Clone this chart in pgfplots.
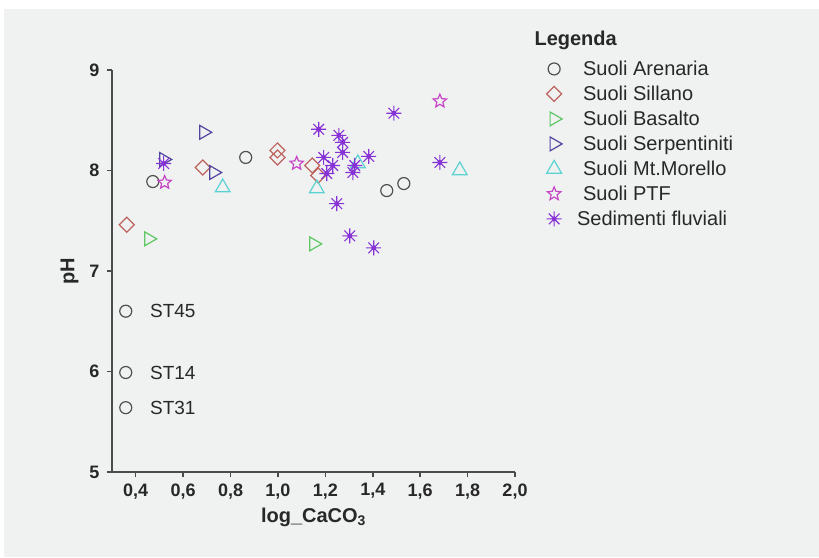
\documentclass[border=0pt]{standalone}
\usepackage{pgfplots}
\pgfplotsset{compat=1.18}
\usepackage{fontspec}
\setmainfont{Liberation Sans}
\definecolor{bg}{RGB}{240,241,241}
\definecolor{axc}{RGB}{75,75,75}
\definecolor{txt}{RGB}{40,40,40}
\definecolor{cAren}{RGB}{80,80,80}
\definecolor{cSill}{RGB}{190,100,95}
\definecolor{cBas}{RGB}{95,200,100}
\definecolor{cSerp}{RGB}{80,70,160}
\definecolor{cMor}{RGB}{90,210,210}
\definecolor{cPTF}{RGB}{200,70,200}
\definecolor{cSed}{RGB}{135,50,215}
\pgfdeclareplotmark{odiam}{%
  \pgfpathmoveto{\pgfpointpolar{90}{\pgfplotmarksize}}%
  \pgfpathlineto{\pgfpointpolar{0}{\pgfplotmarksize}}%
  \pgfpathlineto{\pgfpointpolar{270}{\pgfplotmarksize}}%
  \pgfpathlineto{\pgfpointpolar{180}{\pgfplotmarksize}}%
  \pgfpathclose\pgfusepathqstroke}
\pgfdeclareplotmark{rtri}{%
  \pgfpathmoveto{\pgfpointpolar{0}{\pgfplotmarksize}}%
  \pgfpathlineto{\pgfpointpolar{120}{\pgfplotmarksize}}%
  \pgfpathlineto{\pgfpointpolar{240}{\pgfplotmarksize}}%
  \pgfpathclose\pgfusepathqstroke}
\pgfdeclareplotmark{utri}{%
  \pgfpathmoveto{\pgfpointpolar{90}{\pgfplotmarksize}}%
  \pgfpathlineto{\pgfpointpolar{210}{\pgfplotmarksize}}%
  \pgfpathlineto{\pgfpointpolar{330}{\pgfplotmarksize}}%
  \pgfpathclose\pgfusepathqstroke}
\pgfdeclareplotmark{ostar}{%
  \pgfpathmoveto{\pgfpointpolar{90}{\pgfplotmarksize}}%
  \pgfpathlineto{\pgfpointpolar{126}{0.45\pgfplotmarksize}}%
  \pgfpathlineto{\pgfpointpolar{162}{\pgfplotmarksize}}%
  \pgfpathlineto{\pgfpointpolar{198}{0.45\pgfplotmarksize}}%
  \pgfpathlineto{\pgfpointpolar{234}{\pgfplotmarksize}}%
  \pgfpathlineto{\pgfpointpolar{270}{0.45\pgfplotmarksize}}%
  \pgfpathlineto{\pgfpointpolar{306}{\pgfplotmarksize}}%
  \pgfpathlineto{\pgfpointpolar{342}{0.45\pgfplotmarksize}}%
  \pgfpathlineto{\pgfpointpolar{18}{\pgfplotmarksize}}%
  \pgfpathlineto{\pgfpointpolar{54}{0.45\pgfplotmarksize}}%
  \pgfpathclose\pgfusepathqstroke}
\pgfdeclareplotmark{ast8}{%
  \pgfpathmoveto{\pgfpointpolar{0}{\pgfplotmarksize}}\pgfpathlineto{\pgfpointpolar{180}{\pgfplotmarksize}}%
  \pgfpathmoveto{\pgfpointpolar{45}{\pgfplotmarksize}}\pgfpathlineto{\pgfpointpolar{225}{\pgfplotmarksize}}%
  \pgfpathmoveto{\pgfpointpolar{90}{\pgfplotmarksize}}\pgfpathlineto{\pgfpointpolar{270}{\pgfplotmarksize}}%
  \pgfpathmoveto{\pgfpointpolar{135}{\pgfplotmarksize}}\pgfpathlineto{\pgfpointpolar{315}{\pgfplotmarksize}}%
  \pgfusepathqstroke
  \pgfpathcircle{\pgfpointorigin}{0.33\pgfplotmarksize}\pgfusepathqfill}

\pgfplotstableread{
x y
0.472 7.89
0.864 8.13
1.459 7.80
1.531 7.87
0.358 6.60
0.358 5.99
0.358 5.64
}\arenaria
\pgfplotstableread{
x y
0.362 7.46
0.683 8.03
0.998 8.20
0.998 8.13
1.145 8.05
1.170 7.95
}\sillano
\pgfplotstableread{
x y
0.455 7.32
1.151 7.27
}\basalto
\pgfplotstableread{
x y
0.518 8.11
0.687 8.38
0.729 7.98
}\serpentiniti
\pgfplotstableread{
x y
0.767 7.83
1.164 7.82
1.337 8.07
1.767 8.00
}\morello
\pgfplotstableread{
x y
0.522 7.88
1.079 8.07
1.683 8.69
}\ptf
\pgfplotstableread{
x y
0.518 8.07
1.172 8.41
1.257 8.35
1.273 8.28
1.273 8.18
1.193 8.13
1.231 8.05
1.206 7.97
1.324 8.05
1.316 7.98
1.383 8.14
1.489 8.57
1.683 8.08
1.248 7.67
1.303 7.35
1.404 7.23
}\sedimenti

\begin{document}
\begin{tikzpicture}
\useasboundingbox (0,0) rectangle (819pt,557pt);
\fill[white] (0,0) rectangle (819pt,557pt);
\fill[bg] (4pt,0) rectangle (819pt,548pt);
\begin{axis}[
  at={(112pt,85pt)}, anchor=south west,
  scale only axis, width=403pt, height=402pt,
  xmin=0.3, xmax=2.0, ymin=5, ymax=9,
  axis x line*=bottom, axis y line*=left,
  axis line style={axc, line width=1.8pt},
  every tick/.style={axc, line width=1.5pt},
  major tick length=5pt, tick align=outside,
  xtick={0.4,0.6,...,2.01}, ytick={5,6,7,8,9},
  /pgf/number format/assume math mode=true,
  /pgf/number format/use comma,
  xticklabel style={/pgf/number format/fixed, /pgf/number format/fixed zerofill, /pgf/number format/precision=1, yshift=-3pt},
  yticklabel style={/pgf/number format/fixed, /pgf/number format/precision=0, xshift=-4pt},
  tick label style={font=\bfseries\fontsize{18}{20}\selectfont, text=txt},
  xlabel={\textbf{log\_CaCO\textsubscript{3}}},
  ylabel={\textbf{pH}},
  label style={font=\fontsize{20}{22}\selectfont, text=txt},
  xlabel style={yshift=-2pt},
  ylabel style={yshift=4pt},
  clip=false,
  legend cell align=left,
  legend image code/.code={\draw[mark repeat=2,mark phase=2,#1] plot coordinates {(0pt,0pt) (10pt,0pt) (20pt,0pt)};},
  legend style={at={(axis description cs:1.078,1.028)}, anchor=north west, draw=none, fill=none,
    inner sep=0pt, font=\fontsize{20}{22}\selectfont, text=txt, row sep=5pt, column sep=19pt,
    nodes={inner sep=2pt}},
]
\addplot[only marks, mark=o, mark size=6pt, mark options={cAren, line width=1.2pt}] table {\arenaria};
\addlegendentry{Suoli Arenaria}
\addplot[only marks, mark=odiam, mark size=7.5pt, mark options={cSill, line width=1.2pt}] table {\sillano};
\addlegendentry{Suoli Sillano}
\addplot[only marks, mark=rtri, mark size=8pt, mark options={cBas, line width=1.2pt}] table {\basalto};
\addlegendentry{Suoli Basalto}
\addplot[only marks, mark=rtri, mark size=8pt, mark options={cSerp, line width=1.2pt}] table {\serpentiniti};
\addlegendentry{Suoli Serpentiniti}
\addplot[only marks, mark=utri, mark size=8.5pt, mark options={cMor, line width=1.2pt}] table {\morello};
\addlegendentry{Suoli Mt.Morello}
\addplot[only marks, mark=ostar, mark size=7pt, mark options={cPTF, line width=1.2pt}] table {\ptf};
\addlegendentry{Suoli PTF}
\addplot[only marks, mark=ast8, mark size=7.5pt, mark options={cSed, fill=cSed, line width=1.1pt}] table {\sedimenti};
\addlegendentry{\hspace{-6pt}Sedimenti fluviali}
\node[anchor=west, text=txt, font=\fontsize{19}{21}\selectfont] at (axis cs:0.446,6.60) {ST45};
\node[anchor=west, text=txt, font=\fontsize{19}{21}\selectfont] at (axis cs:0.446,5.99) {ST14};
\node[anchor=west, text=txt, font=\fontsize{19}{21}\selectfont] at (axis cs:0.446,5.64) {ST31};
\end{axis}
\node[anchor=west, text=txt, font=\bfseries\fontsize{20}{22}\selectfont] at (531pt,517pt) {Legenda};
\end{tikzpicture}
\end{document}
